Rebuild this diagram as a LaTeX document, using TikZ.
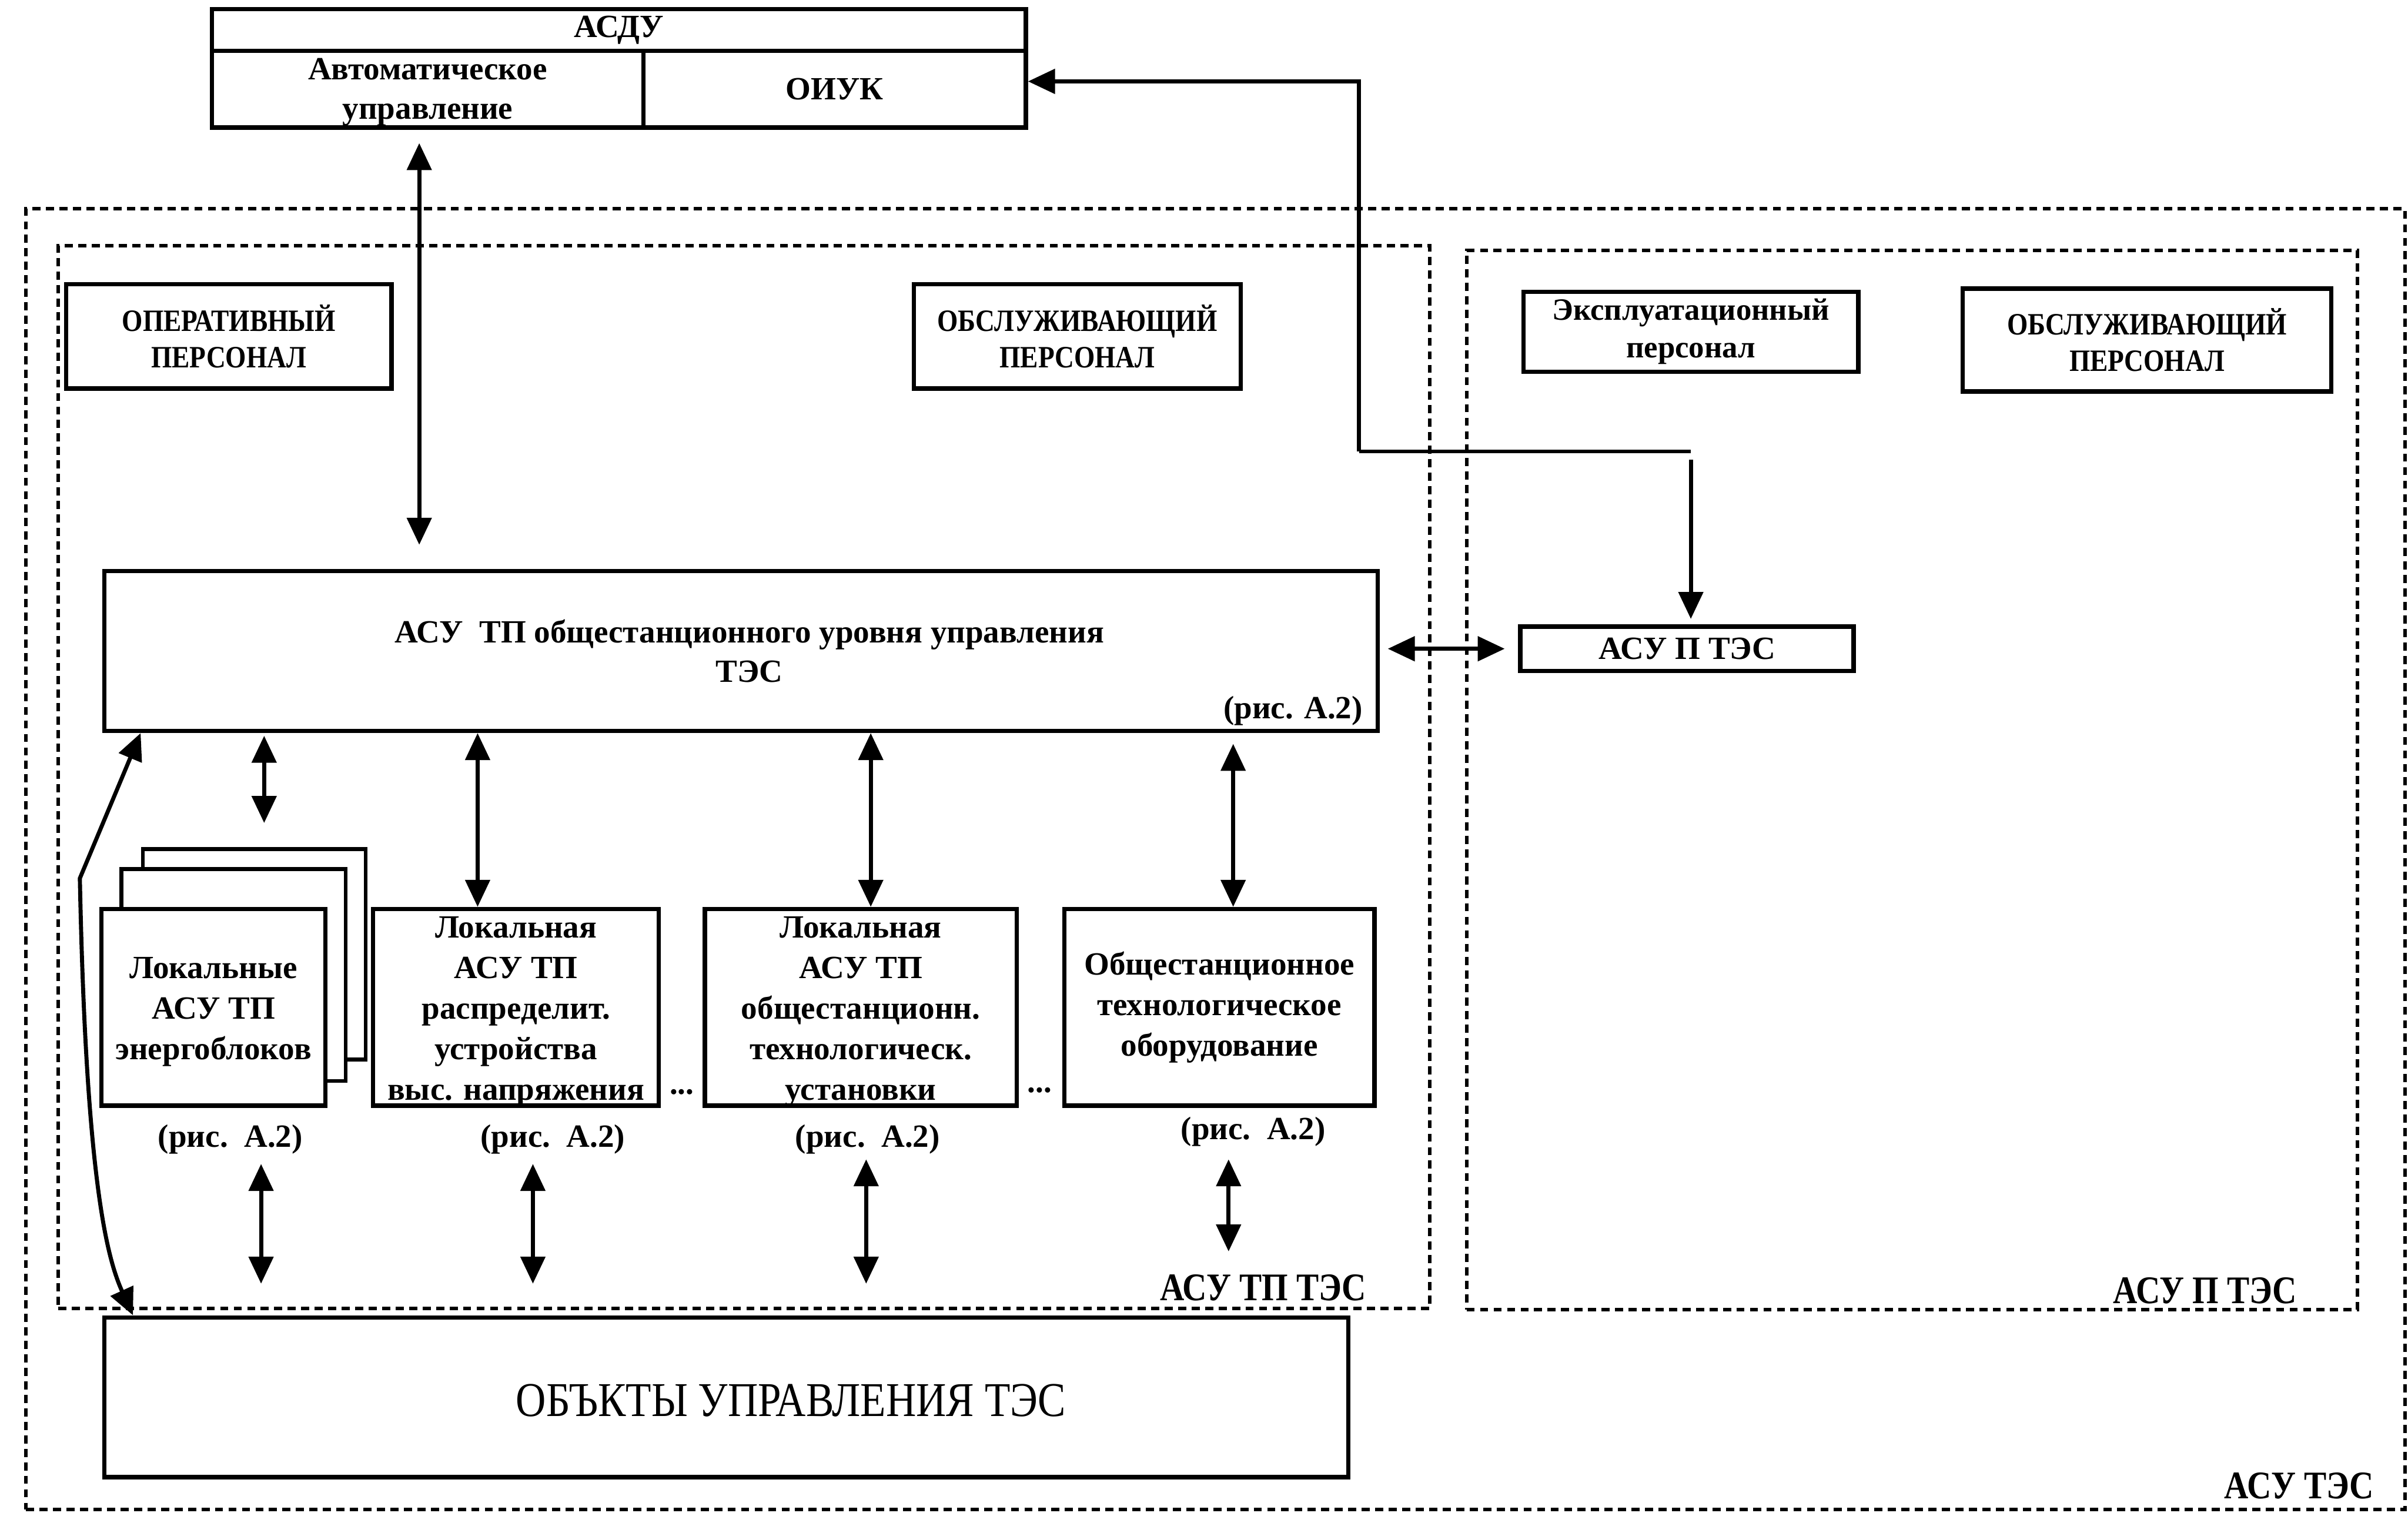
\documentclass[tikz,border=0pt]{standalone}
\usepackage{fontspec}
\setmainfont{Liberation Serif}
\newfontfamily\condf{Liberation Serif}[FakeStretch=0.86]
\usetikzlibrary{arrows.meta,fit}
\tikzset{
  box/.style={draw, line width=1.6pt, inner sep=0pt, fill=white},
  txt/.style={inner sep=0pt, align=center, font=\bfseries\fontsize{12}{14.6}\selectfont},
  loctxt/.style={txt, font=\bfseries\fontsize{12}{15}\selectfont},
  captxt/.style={txt, font=\condf\bfseries\fontsize{11.5}{13.5}\selectfont},
  grp/.style={draw, line width=1.3pt, dash pattern=on 3pt off 2pt, inner sep=0pt},
  dbl/.style={{Triangle[length=10pt,width=9pt]}-{Triangle[length=10pt,width=9pt]}, line width=1.5pt},
  sgl/.style={-{Triangle[length=10pt,width=9pt]}, line width=1.5pt},
  glbl/.style={inner sep=0pt, font=\condf\bfseries\fontsize{14.5}{16}\selectfont},
}
\begin{document}
\begin{tikzpicture}[x=0.02cm,y=-0.02cm]
\useasboundingbox (0,0) rectangle (1568,985);

% group frames
\node[grp, fit={(17,136) (1566,983)}] (tes) {};
\node[grp, fit={(38,160) (931,852)}] (tptes) {};
\node[grp, fit={(955,163) (1535,853)}] (ptes) {};
\node[glbl, anchor=base east] (ltes) at (1546,976) {АСУ ТЭС};
\node[glbl, anchor=base east] (ltptes) at (890,847) {АСУ ТП ТЭС};
\node[glbl, anchor=base east] (lptes) at (1496,849) {АСУ П ТЭС};

% ASDU
\node[box, fit={(138,6) (668,33)}] (asdu) {};
\node[txt] (asdu-t) at (asdu) {АСДУ};
\node[box, fit={(138,33) (419,83)}] (auto) {};
\node[txt] (auto-t) at ([yshift=-0.04cm]auto.center) {Автоматическое\\управление};
\node[box, fit={(419,33) (668,83)}] (oiuk) {};
\node[txt] (oiuk-t) at (oiuk) {ОИУК};

% personnel
\node[box, fit={(43,185) (255,253)}] (oper) {};
\node[captxt] (oper-t) at (oper) {ОПЕРАТИВНЫЙ\\ПЕРСОНАЛ};
\node[box, fit={(595,185) (808,253)}] (obs1) {};
\node[captxt] (obs1-t) at (obs1) {ОБСЛУЖИВАЮЩИЙ\\ПЕРСОНАЛ};
\node[box, fit={(992,190) (1210,242)}] (expl) {};
\node[txt, font=\bfseries\fontsize{11.5}{14}\selectfont] (expl-t) at (expl) {Эксплуатационный\\персонал};
\node[box, fit={(1278,188) (1518,255)}] (obs2) {};
\node[captxt] (obs2-t) at (obs2) {ОБСЛУЖИВАЮЩИЙ\\ПЕРСОНАЛ};

% main systems
\node[box, fit={(68,372) (897,476)}] (asutp) {};
\node[txt] (asutp-t) at (488,424) {АСУ\ \ ТП общестанционного уровня управления\\ТЭС};
\node[txt] (r0) at (842,463) {(рис. А.2)};
\node[box, fit={(990,408) (1207,437)}] (asup) {};
\node[txt] (asup-t) at (asup) {АСУ П ТЭС};

% local systems
\node[box, line width=1.4pt, fit={(93,553) (238,690)}] (lk1c) {};
\node[box, line width=1.4pt, fit={(79,566) (225,704)}] (lk1b) {};
\node[box, fit={(66,592) (212,720)}] (lk1) {};
\node[loctxt] (lk1-t) at ([yshift=-0.06cm]lk1.center) {Локальные\\АСУ ТП\\энергоблоков};
\node[box, fit={(243,592) (429,720)}] (lk2) {};
\node[loctxt] (lk2-t) at ([yshift=-0.06cm]lk2.center) {Локальная\\АСУ ТП\\распределит.\\устройства\\выс. напряжения};
\node[box, fit={(459,592) (662,720)}] (lk3) {};
\node[loctxt] (lk3-t) at ([yshift=-0.06cm]lk3.center) {Локальная\\АСУ ТП\\общестанционн.\\технологическ.\\установки};
\node[box, fit={(693,592) (895,720)}] (lk4) {};
\node[loctxt] (lk4-t) at (lk4) {Общестанционное\\технологическое\\оборудование};
\node[txt] (dots1) at (444,711) {...};
\node[txt] (dots2) at (677,710) {...};
\node[txt] (r1) at (150,742) {(рис.\ \ А.2)};
\node[txt] (r2) at (360,742) {(рис.\ \ А.2)};
\node[txt] (r3) at (565,742) {(рис.\ \ А.2)};
\node[txt] (r4) at (816,737) {(рис.\ \ А.2)};

% objects
\node[box, fit={(68,858) (878,962)}] (objs) {};
\node[txt, font=\condf\fontsize{18}{20}\selectfont] (objs-t) at (515,912) {ОБЪКТЫ УПРАВЛЕНИЯ ТЭС};

% connectors
\coordinate (x172) at (172,0);
\coordinate (x273) at (273,0);
\coordinate (x311) at (311,0);
\coordinate (x567) at (567,0);
\coordinate (x803) at (803,0);
\draw[dbl, shorten <=5pt, shorten >=9pt] (auto.south -| x273) -- (asutp.north -| x273);
\draw[dbl, shorten <=1pt, shorten >=9pt] (asutp.south -| x172) -- (lk1c.north -| x172);
\draw[dbl] (asutp.south -| x311) -- (lk2.north -| x311);
\draw[dbl] (asutp.south -| x567) -- (lk3.north -| x567);
\draw[dbl, shorten <=4pt] (asutp.south -| x803) -- (lk4.north -| x803);
\draw[dbl, shorten <=3pt, shorten >=5pt] (asutp.east |- asup.west) -- (asup.west);

\coordinate (j) at (1101,294);
\coordinate (k) at (885,294);
\draw[line width=1.5pt] (j) -- (k);
\draw[sgl] (k) |- ([yshift=0.1cm]oiuk.east);
\draw[sgl, shorten <=3pt, shorten >=2pt] (j) -- (j |- asup.north);

\draw[dbl] ([xshift=0.5cm]asutp.south west) -- (52,572) .. controls (56,770) and (70,820) .. ([xshift=0.4cm]objs.north west);

\coordinate (b1t) at (170,758); \coordinate (b1b) at (170,836);
\coordinate (b2t) at (347,758); \coordinate (b2b) at (347,836);
\coordinate (b3t) at (564,755); \coordinate (b3b) at (564,836);
\coordinate (b4t) at (800,755); \coordinate (b4b) at (800,815);
\draw[dbl] (b1t) -- (b1b);
\draw[dbl] (b2t) -- (b2b);
\draw[dbl] (b3t) -- (b3b);
\draw[dbl] (b4t) -- (b4b);
\end{tikzpicture}
\end{document}
